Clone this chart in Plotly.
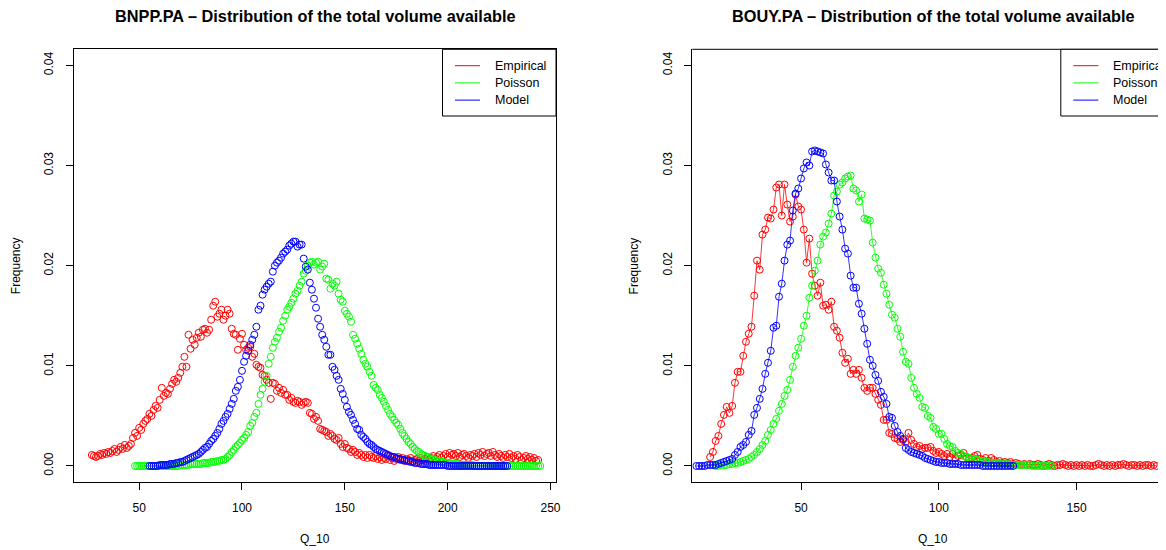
import plotly.graph_objects as go

# the page puts an 8px body margin round the plot, so the figure is drawn 8px smaller
OFF = 8
W, H = 1166 - OFF, 550 - OFF

# Q_10 value of the first point of each series (one point per integer after that)
bnpp_emp_start, bnpp_poi_start, bnpp_mod_start = 27, 48, 55
bouy_emp_start, bouy_poi_start, bouy_mod_start = 17, 19, 12

# BNPP.PA - frequencies
bnpp_empirical = [
    0.0011, 0.0010, 0.0009, 0.0010, 0.0012, 0.0011, 0.0013, 0.0012, 0.0014, 0.0013,
    0.0015, 0.0017, 0.0014, 0.0016, 0.0019, 0.0017, 0.0021, 0.0018, 0.0020, 0.0022,
    0.0028, 0.0033, 0.0030, 0.0038, 0.0036, 0.0042, 0.0045, 0.0047, 0.0052, 0.0050,
    0.0056, 0.0060, 0.0058, 0.0066, 0.0078, 0.0070, 0.0073, 0.0072, 0.0077, 0.0082,
    0.0086, 0.0084, 0.0088, 0.0093, 0.0099, 0.0109, 0.0099, 0.0131, 0.0117, 0.0126,
    0.0121, 0.0128, 0.0133, 0.0129, 0.0136, 0.0137, 0.0133, 0.0136, 0.0146, 0.0160,
    0.0164, 0.0149, 0.0152, 0.0156, 0.0146, 0.0150, 0.0156, 0.0152, 0.0137, 0.0132,
    0.0131, 0.0116, 0.0127, 0.0132, 0.0121, 0.0116, 0.0118, 0.0119, 0.0109, 0.0112,
    0.0101, 0.0099, 0.0098, 0.0091, 0.0090, 0.0086, 0.0083, 0.0067, 0.0083, 0.0082,
    0.0075, 0.0078, 0.0073, 0.0076, 0.0071, 0.0071, 0.0066, 0.0068, 0.0064, 0.0063,
    0.0065, 0.0064, 0.0061, 0.0063, 0.0064, 0.0063, 0.0053, 0.0052, 0.0047, 0.0049,
    0.0045, 0.0037, 0.0036, 0.0035, 0.0034, 0.0030, 0.0032, 0.0030, 0.0027, 0.0026,
    0.0028, 0.0022, 0.0019, 0.0022, 0.0018, 0.0017, 0.0014, 0.0016, 0.0014, 0.0011,
    0.0013, 0.0011, 0.0009, 0.0011, 0.0008, 0.0011, 0.0009, 0.0008, 0.0010, 0.0007,
    0.0009, 0.0006, 0.0008, 0.0007, 0.0010, 0.0006, 0.0008, 0.0005, 0.0007, 0.0009,
    0.0006, 0.0008, 0.0005, 0.0007, 0.0006, 0.0008, 0.0005, 0.0006, 0.0007, 0.0005,
    0.0008, 0.0006, 0.0007, 0.0009, 0.0006, 0.0008, 0.0010, 0.0007, 0.0009, 0.0011,
    0.0008, 0.0010, 0.0012, 0.0009, 0.0013, 0.0011, 0.0012, 0.0010, 0.0013, 0.0009,
    0.0011, 0.0012, 0.0010, 0.0008, 0.0011, 0.0010, 0.0012, 0.0009, 0.0013, 0.0011,
    0.0014, 0.0010, 0.0012, 0.0013, 0.0010, 0.0014, 0.0011, 0.0009, 0.0012, 0.0010,
    0.0008, 0.0011, 0.0009, 0.0012, 0.0008, 0.0010, 0.0007, 0.0011, 0.0009, 0.0006,
    0.0008, 0.0010, 0.0007, 0.0009, 0.0006, 0.0008, 0.0005, 0.0006,
]
bnpp_poisson = [
    0.0000, 0.0000, 0.0000, 0.0000, 0.0000, 0.0000, 0.0000, 0.0000, 0.0000, 0.0000,
    0.0000, 0.0000, 0.0000, 0.0000, 0.0000, 0.0000, 0.0000, 0.0000, 0.0000, 0.0000,
    0.0000, 0.0000, 0.0001, 0.0001, 0.0001, 0.0001, 0.0001, 0.0002, 0.0002, 0.0002,
    0.0002, 0.0002, 0.0002, 0.0003, 0.0003, 0.0003, 0.0003, 0.0004, 0.0004, 0.0004,
    0.0005, 0.0005, 0.0006, 0.0006, 0.0007, 0.0009, 0.0011, 0.0014, 0.0016, 0.0019,
    0.0021, 0.0023, 0.0026, 0.0028, 0.0031, 0.0034, 0.0040, 0.0043, 0.0049, 0.0053,
    0.0062, 0.0071, 0.0077, 0.0084, 0.0090, 0.0102, 0.0109, 0.0118, 0.0124, 0.0128,
    0.0134, 0.0138, 0.0145, 0.0150, 0.0156, 0.0159, 0.0163, 0.0167, 0.0172, 0.0175,
    0.0180, 0.0184, 0.0192, 0.0195, 0.0200, 0.0203, 0.0204, 0.0201, 0.0203, 0.0204,
    0.0196, 0.0199, 0.0202, 0.0187, 0.0186, 0.0177, 0.0182, 0.0180, 0.0184, 0.0172,
    0.0166, 0.0164, 0.0155, 0.0152, 0.0149, 0.0144, 0.0131, 0.0127, 0.0122, 0.0117,
    0.0112, 0.0106, 0.0102, 0.0099, 0.0094, 0.0090, 0.0081, 0.0078, 0.0076, 0.0071,
    0.0068, 0.0064, 0.0060, 0.0056, 0.0052, 0.0049, 0.0046, 0.0043, 0.0041, 0.0037,
    0.0033, 0.0030, 0.0027, 0.0024, 0.0022, 0.0019, 0.0017, 0.0015, 0.0014, 0.0012,
    0.0011, 0.0010, 0.0009, 0.0008, 0.0007, 0.0007, 0.0006, 0.0005, 0.0005, 0.0004,
    0.0004, 0.0003, 0.0003, 0.0003, 0.0002, 0.0002, 0.0002, 0.0002, 0.0001, 0.0001,
    0.0001, 0.0001, 0.0001, 0.0001, 0.0001, 0.0000, 0.0000, 0.0000, 0.0000, 0.0000,
    0.0000, 0.0000, 0.0000, 0.0000, 0.0000, 0.0000, 0.0000, 0.0000, 0.0000, 0.0000,
    0.0000, 0.0000, 0.0000, 0.0000, 0.0000, 0.0000, 0.0000, 0.0000, 0.0000, 0.0000,
    0.0000, 0.0000, 0.0000, 0.0000, 0.0000, 0.0000, 0.0000, 0.0000,
]
bnpp_model = [
    0.0000, 0.0000, 0.0000, 0.0000, 0.0000, 0.0001, 0.0001, 0.0001, 0.0001, 0.0001,
    0.0002, 0.0002, 0.0002, 0.0003, 0.0003, 0.0004, 0.0004, 0.0005, 0.0006, 0.0007,
    0.0008, 0.0009, 0.0010, 0.0011, 0.0012, 0.0014, 0.0016, 0.0018, 0.0019, 0.0022,
    0.0025, 0.0027, 0.0030, 0.0033, 0.0037, 0.0042, 0.0045, 0.0049, 0.0052, 0.0057,
    0.0062, 0.0067, 0.0075, 0.0079, 0.0086, 0.0095, 0.0104, 0.0110, 0.0115, 0.0121,
    0.0126, 0.0131, 0.0139, 0.0156, 0.0160, 0.0171, 0.0176, 0.0179, 0.0182, 0.0184,
    0.0194, 0.0200, 0.0203, 0.0205, 0.0208, 0.0212, 0.0214, 0.0216, 0.0220, 0.0222,
    0.0224, 0.0224, 0.0219, 0.0221, 0.0221, 0.0207, 0.0199, 0.0196, 0.0183, 0.0176,
    0.0167, 0.0158, 0.0147, 0.0139, 0.0131, 0.0126, 0.0119, 0.0111, 0.0111, 0.0099,
    0.0096, 0.0090, 0.0086, 0.0077, 0.0072, 0.0066, 0.0059, 0.0054, 0.0051, 0.0046,
    0.0042, 0.0037, 0.0036, 0.0031, 0.0029, 0.0027, 0.0024, 0.0022, 0.0021, 0.0019,
    0.0017, 0.0016, 0.0015, 0.0014, 0.0013, 0.0012, 0.0011, 0.0010, 0.0009, 0.0009,
    0.0008, 0.0007, 0.0007, 0.0006, 0.0006, 0.0005, 0.0005, 0.0004, 0.0004, 0.0003,
    0.0003, 0.0003, 0.0002, 0.0002, 0.0002, 0.0002, 0.0001, 0.0001, 0.0001, 0.0001,
    0.0001, 0.0001, 0.0001, 0.0001, 0.0001, 0.0000, 0.0000, 0.0000, 0.0000, 0.0000,
    0.0000, 0.0000, 0.0000, 0.0000, 0.0000, 0.0000, 0.0000, 0.0000, 0.0000, 0.0000,
    0.0000, 0.0000, 0.0000, 0.0000, 0.0000, 0.0000, 0.0000, 0.0000, 0.0000, 0.0000,
    0.0000, 0.0000, 0.0000, 0.0000, 0.0000,
]

# BOUY.PA
bouy_empirical = [
    0.0009, 0.0014, 0.0025, 0.0030, 0.0042, 0.0051, 0.0059, 0.0053, 0.0060, 0.0083,
    0.0094, 0.0094, 0.0110, 0.0124, 0.0132, 0.0139, 0.0170, 0.0205, 0.0196, 0.0231,
    0.0236, 0.0248, 0.0247, 0.0256, 0.0278, 0.0281, 0.0250, 0.0281, 0.0261, 0.0244,
    0.0249, 0.0271, 0.0259, 0.0256, 0.0236, 0.0203, 0.0227, 0.0192, 0.0180, 0.0170,
    0.0183, 0.0160, 0.0161, 0.0156, 0.0164, 0.0139, 0.0135, 0.0128, 0.0113, 0.0103,
    0.0107, 0.0092, 0.0096, 0.0092, 0.0096, 0.0088, 0.0078, 0.0075, 0.0078, 0.0078,
    0.0072, 0.0066, 0.0061, 0.0046, 0.0046, 0.0033, 0.0032, 0.0028, 0.0027, 0.0024,
    0.0026, 0.0024, 0.0033, 0.0026, 0.0022, 0.0019, 0.0020, 0.0017, 0.0018, 0.0018,
    0.0019, 0.0015, 0.0013, 0.0014, 0.0012, 0.0010, 0.0012, 0.0009, 0.0012, 0.0008,
    0.0010, 0.0011, 0.0013, 0.0009, 0.0007, 0.0008, 0.0010, 0.0011, 0.0007, 0.0006,
    0.0008, 0.0005, 0.0008, 0.0006, 0.0004, 0.0005, 0.0003, 0.0004, 0.0003, 0.0004,
    0.0002, 0.0003, 0.0002, 0.0001, 0.0002, 0.0001, 0.0002, 0.0001, 0.0001, 0.0002,
    0.0001, 0.0000, 0.0001, 0.0002, 0.0001, 0.0000, 0.0001, 0.0001, 0.0002, 0.0001,
    0.0000, 0.0001, 0.0000, 0.0001, 0.0000, 0.0001, 0.0000, 0.0001, 0.0000, 0.0000,
    0.0001, 0.0002, 0.0001, 0.0000, 0.0001, 0.0000, 0.0001, 0.0000, 0.0001, 0.0001,
    0.0002, 0.0001, 0.0000, 0.0001, 0.0001, 0.0000, 0.0001, 0.0000, 0.0001, 0.0001,
    0.0000, 0.0001, 0.0000,
]
bouy_poisson = [
    0.0000, 0.0000, 0.0001, 0.0001, 0.0001, 0.0002, 0.0002, 0.0003, 0.0003, 0.0004,
    0.0005, 0.0006, 0.0007, 0.0009, 0.0011, 0.0014, 0.0017, 0.0021, 0.0025, 0.0031,
    0.0036, 0.0042, 0.0047, 0.0055, 0.0062, 0.0070, 0.0076, 0.0086, 0.0099, 0.0110,
    0.0118, 0.0127, 0.0140, 0.0150, 0.0168, 0.0180, 0.0195, 0.0205, 0.0221, 0.0229,
    0.0233, 0.0242, 0.0252, 0.0270, 0.0274, 0.0281, 0.0283, 0.0287, 0.0289, 0.0290,
    0.0277, 0.0275, 0.0264, 0.0271, 0.0247, 0.0246, 0.0245, 0.0223, 0.0208, 0.0197,
    0.0193, 0.0181, 0.0172, 0.0161, 0.0151, 0.0148, 0.0137, 0.0129, 0.0114, 0.0104,
    0.0102, 0.0088, 0.0078, 0.0072, 0.0068, 0.0059, 0.0058, 0.0050, 0.0048, 0.0039,
    0.0037, 0.0032, 0.0032, 0.0027, 0.0022, 0.0020, 0.0019, 0.0015, 0.0013, 0.0012,
    0.0010, 0.0009, 0.0008, 0.0007, 0.0007, 0.0006, 0.0005, 0.0005, 0.0004, 0.0004,
    0.0003, 0.0003, 0.0003, 0.0002, 0.0002, 0.0002, 0.0002, 0.0001, 0.0001, 0.0001,
    0.0001, 0.0001, 0.0001, 0.0001, 0.0001, 0.0000, 0.0000, 0.0000, 0.0000, 0.0000,
    0.0000, 0.0000, 0.0000,
]
bouy_model = [
    0.0000, 0.0000, 0.0000, 0.0000, 0.0001, 0.0001, 0.0001, 0.0001, 0.0002, 0.0003,
    0.0004, 0.0005, 0.0006, 0.0007, 0.0011, 0.0014, 0.0019, 0.0021, 0.0024, 0.0031,
    0.0035, 0.0051, 0.0058, 0.0067, 0.0077, 0.0092, 0.0103, 0.0115, 0.0138, 0.0140,
    0.0169, 0.0182, 0.0205, 0.0221, 0.0225, 0.0255, 0.0272, 0.0277, 0.0287, 0.0297,
    0.0303, 0.0300, 0.0314, 0.0315, 0.0314, 0.0313, 0.0312, 0.0301, 0.0293, 0.0285,
    0.0285, 0.0264, 0.0249, 0.0236, 0.0217, 0.0212, 0.0190, 0.0178, 0.0178, 0.0162,
    0.0152, 0.0137, 0.0122, 0.0106, 0.0100, 0.0091, 0.0085, 0.0074, 0.0069, 0.0062,
    0.0049, 0.0048, 0.0040, 0.0034, 0.0030, 0.0027, 0.0018, 0.0016, 0.0014, 0.0013,
    0.0012, 0.0011, 0.0010, 0.0008, 0.0007, 0.0006, 0.0005, 0.0004, 0.0004, 0.0003,
    0.0003, 0.0003, 0.0002, 0.0002, 0.0002, 0.0002, 0.0001, 0.0001, 0.0001, 0.0001,
    0.0001, 0.0001, 0.0001, 0.0001, 0.0000, 0.0000, 0.0000, 0.0000, 0.0000, 0.0000,
    0.0000, 0.0000, 0.0000, 0.0000, 0.0000, 0.0000,
]

series_names = ["Empirical", "Poisson", "Model"]
series_colors = ["#FF0000", "#00FF00", "#0000FF"]
titles = ["BNPP.PA – Distribution of the total volume available",
          "BOUY.PA – Distribution of the total volume available"]
x_ticks_bnpp = [50, 100, 150, 200, 250]
x_ticks_bouy = [50, 100, 150]
y_ticks = [0.00, 0.01, 0.02, 0.03, 0.04]
y_tick_labels = ["0.00", "0.01", "0.02", "0.03", "0.04"]

FONT = "Liberation Sans"

# panel boxes in page pixels (R layout, the second panel runs past the right edge)
BOX_W = 482
BOX_TOP, BOX_BOT = 49.3, 482
PANEL_LEFT = [74, 692.3]


def px(x):
    return (x - OFF) / W


def py(y):
    return 1 - (y - OFF) / H


fig = go.Figure()

panels = [
    ("x", "y", [(bnpp_emp_start, bnpp_empirical), (bnpp_poi_start, bnpp_poisson),
                (bnpp_mod_start, bnpp_model)], False),
    ("x2", "y2", [(bouy_emp_start, bouy_empirical), (bouy_poi_start, bouy_poisson),
                  (bouy_mod_start, bouy_model)], True),
]
for xa, ya, series, with_lines in panels:
    for (start, vals), name, col in zip(series, series_names, series_colors):
        fig.add_trace(go.Scatter(
            x=list(range(start, start + len(vals))), y=vals,
            mode="lines+markers" if with_lines else "markers",
            line=dict(color=col, width=0.8),
            marker=dict(symbol="circle-open", size=7, color=col, line=dict(width=1, color=col)),
            name=name, showlegend=False, xaxis=xa, yaxis=ya,
        ))

axis_common = dict(
    ticks="outside", ticklen=7, tickwidth=1, tickcolor="black",
    showline=True, linecolor="black", linewidth=1,
    showgrid=False, zeroline=False, automargin=False,
    tickfont=dict(family=FONT, size=12, color="black"),
)

fig.update_layout(
    width=W, height=H, autosize=False,
    margin=dict(l=0, r=0, t=0, b=0),
    paper_bgcolor="white", plot_bgcolor="white",
    showlegend=False,
    xaxis=dict(domain=[px(74), px(74 + BOX_W)], range=[18.32, 252.68], anchor="y",
               tickvals=x_ticks_bnpp, mirror=True, ticklabelstandoff=8, **axis_common),
    yaxis=dict(domain=[py(BOX_BOT), py(BOX_TOP)], range=[-0.0016, 0.0416], anchor="x",
               tickvals=y_ticks, ticktext=y_tick_labels, tickangle=-90, mirror=True,
               ticklabelstandoff=8, **axis_common),
    xaxis2=dict(domain=[px(692.3), 1], range=[10.52, 182.47], anchor="y2",
                tickvals=x_ticks_bouy, ticklabelstandoff=8, **axis_common),
    yaxis2=dict(domain=[py(BOX_BOT), py(BOX_TOP)], range=[-0.0016, 0.0416], anchor="x2",
                tickvals=y_ticks, ticktext=y_tick_labels, tickangle=-90,
                ticklabelstandoff=8, **axis_common),
)

shapes = []
annotations = []
# top edge of the cut-off right panel box
shapes.append(dict(type="line", xref="paper", yref="paper", x0=px(692.3), x1=1.02,
                   y0=py(BOX_TOP), y1=py(BOX_TOP), line=dict(color="black", width=1)))

for k, (left, title) in enumerate(zip(PANEL_LEFT, titles)):
    cx = left + BOX_W / 2
    annotations.append(dict(text="<b>" + title + "</b>", x=px(cx), y=py(16), xref="paper", yref="paper",
                            xanchor="center", yanchor="middle", showarrow=False,
                            font=dict(family=FONT, size=16.3, color="black")))
    annotations.append(dict(text="Q_10", x=px(cx), y=py(539), xref="paper", yref="paper",
                            xanchor="center", yanchor="middle", showarrow=False,
                            font=dict(family=FONT, size=12, color="black")))
    annotations.append(dict(text="Frequency", x=px(left - 58.5), y=py((BOX_TOP + BOX_BOT) / 2),
                            xref="paper", yref="paper", xanchor="center", yanchor="middle",
                            textangle=-90, showarrow=False,
                            font=dict(family=FONT, size=12, color="black")))
    # legend box: the left one stops on the panel edge, the right one runs off the page
    right = left + BOX_W if k == 0 else left + BOX_W + 10
    shapes.append(dict(type="rect", xref="paper", yref="paper",
                       x0=px(left + 368.5), x1=px(right), y0=py(116), y1=py(BOX_TOP),
                       line=dict(color="black", width=1), fillcolor="white", layer="above"))
    for i, (name, col) in enumerate(zip(series_names, series_colors)):
        ly = 65.7 + 17.2 * i
        shapes.append(dict(type="line", xref="paper", yref="paper",
                           x0=px(left + 381), x1=px(left + 406), y0=py(ly), y1=py(ly),
                           line=dict(color=col, width=1), layer="above"))
        annotations.append(dict(text=name, x=px(left + 418.5), y=py(ly), xref="paper", yref="paper",
                                xanchor="left", yanchor="middle", showarrow=False,
                                font=dict(family=FONT, size=12.5, color="black")))

fig.update_layout(shapes=shapes, annotations=annotations)

fig.write_html("out.html")
